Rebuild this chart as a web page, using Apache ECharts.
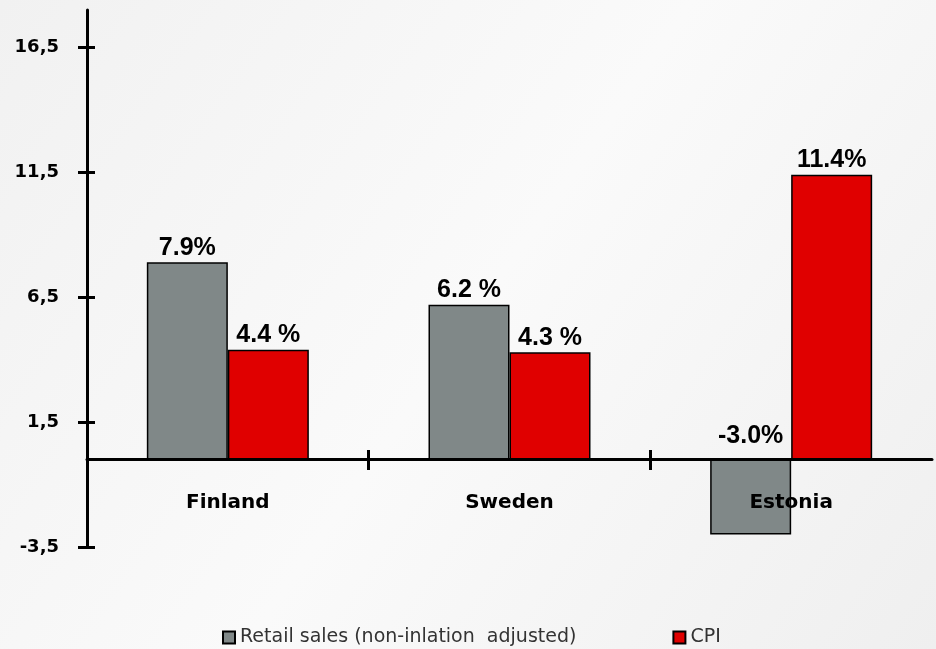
<!DOCTYPE html>
<html>
<head>
<meta charset="utf-8">
<script src="https://cdn.jsdelivr.net/npm/echarts@6/dist/echarts.min.js"></script>
<style>
html,body{margin:0;padding:0;background:#fff;}
#chart{width:936px;height:649px;}
</style>
</head>
<body>
<div id="chart"></div>
<script>
const categories = ['Finland', 'Sweden', 'Estonia'];
const retailSales = [7.9, 6.2, -3.0];
const cpi = [4.4, 4.3, 11.4];
const retailLabels = ['7.9%', '6.2 %', '-3.0%'];
const cpiLabels = ['4.4 %', '4.3 %', '11.4%'];
const yTicks = [-3.5, 1.5, 6.5, 11.5, 16.5];
const xBoundaryTicks = [1, 2];
const seriesNames = ['Retail sales (non-inlation  adjusted)', 'CPI'];

const chart = echarts.init(document.getElementById('chart'));
const labelFont = { fontFamily: 'Liberation Sans', fontWeight: 'bold', fontSize: 25, color: '#000' };

chart.setOption({
  backgroundColor: {
    type: 'linear', x: 0, y: 0, x2: 1, y2: 1,
    colorStops: [{ offset: 0, color: '#f1f1f1' }, { offset: 0.5, color: '#fafafa' }, { offset: 1, color: '#efefef' }]
  },
  animation: false,
  grid: { left: 87, right: 4, top: 10, bottom: 102, containLabel: false },
  legend: {
    left: 217, top: 623,
    itemWidth: 12, itemHeight: 12, itemGap: 96,
    icon: 'rect',
    textStyle: { fontFamily: 'DejaVu Sans', fontSize: 19, color: '#333' },
    data: seriesNames
  },
  xAxis: [
    {
      type: 'category', data: categories, gridIndex: 0, position: 'bottom', offset: -87.4, z: 5,
      axisLine: { show: true, onZero: false, lineStyle: { color: '#000', width: 3 } },
      axisTick: { show: false },
      axisLabel: { margin: 33, fontFamily: 'DejaVu Sans', fontWeight: 'bold', fontSize: 20, color: '#000' },
      splitLine: { show: false }
    },
    {
      type: 'value', min: 0, max: 3, gridIndex: 0, position: 'bottom', offset: -77, z: 5,
      axisLine: { show: false, onZero: false },
      axisTick: { show: true, inside: true, length: 20, customValues: xBoundaryTicks, lineStyle: { color: '#000', width: 3 } },
      axisLabel: { show: false },
      splitLine: { show: false }
    }
  ],
  yAxis: [
    {
      type: 'value', min: -3.5, max: 18,
      axisLine: { show: true, onZero: false, lineStyle: { color: '#000', width: 3 } },
      axisTick: { show: false },
      axisLabel: {
        customValues: yTicks, margin: 28,
        fontFamily: 'DejaVu Sans', fontWeight: 'bold', fontSize: 18, color: '#000',
        formatter: v => String(v).replace('.', ',')
      },
      splitLine: { show: false }
    },
    {
      type: 'value', min: -3.5, max: 18, position: 'left', offset: 9,
      axisLine: { show: false, onZero: false },
      axisTick: { show: true, inside: true, length: 17, customValues: yTicks, lineStyle: { color: '#000', width: 3 } },
      axisLabel: { show: false },
      splitLine: { show: false }
    }
  ],
  series: [
    {
      name: seriesNames[0], type: 'bar', xAxisIndex: 0, yAxisIndex: 0,
      barWidth: 81, barGap: '0%',
      itemStyle: { color: '#808888', borderColor: '#000', borderWidth: 1.5 },
      data: retailSales.map((v, i) => ({
        value: v,
        label: { formatter: retailLabels[i], distance: v < 0 ? 11 : 2 }
      })),
      label: Object.assign({ show: true, position: 'top', distance: 2 }, labelFont)
    },
    {
      name: seriesNames[1], type: 'bar', xAxisIndex: 0, yAxisIndex: 0,
      barWidth: 81, barGap: '0%',
      itemStyle: { color: '#e00000', borderColor: '#000', borderWidth: 1.5 },
      data: cpi.map((v, i) => ({ value: v, label: { formatter: cpiLabels[i] } })),
      label: Object.assign({ show: true, position: 'top', distance: 2 }, labelFont)
    }
  ]
});
</script>
</body>
</html>
